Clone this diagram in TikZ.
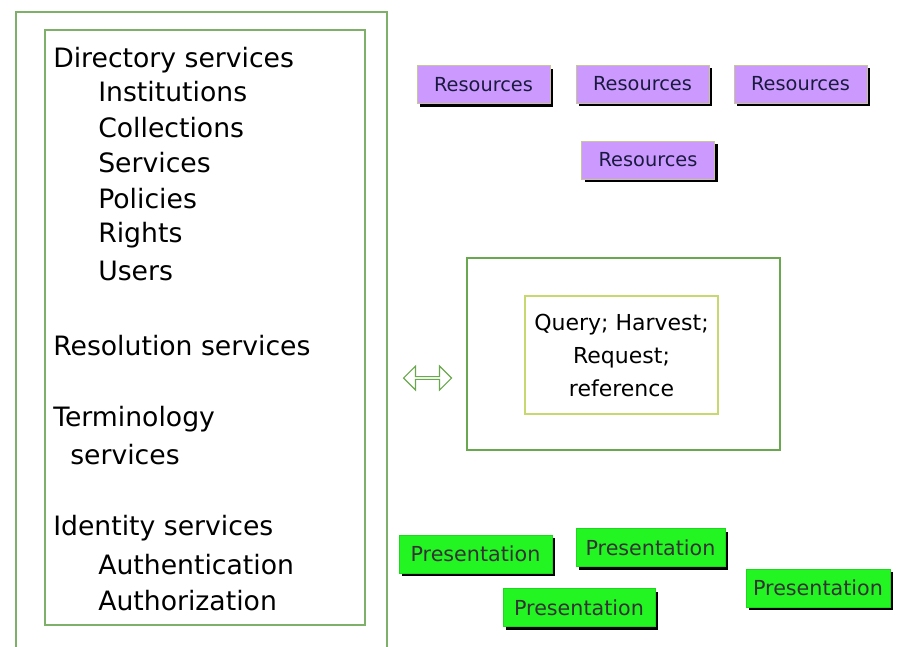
\documentclass[tikz,border=0pt]{standalone}
\usepackage{fontspec}
\setmainfont{DejaVu Sans}
\usetikzlibrary{shapes.arrows}
\definecolor{boxgreen}{HTML}{6AA84F}
\definecolor{innergreen}{HTML}{7FB06A}
\definecolor{yellowgreen}{HTML}{C8D870}
\definecolor{lav}{HTML}{CC99FF}
\definecolor{brightgreen}{HTML}{22F522}
\definecolor{navy}{HTML}{1A1A40}
\tikzset{
  frame/.style={draw=#1, line width=1.2pt},
  lbl/.style={anchor=west, inner sep=0pt, font=\fontsize{20}{24}\selectfont},
  resbox/.style={minimum width=99.75pt, minimum height=28.5pt, inner sep=0pt, fill=lav, draw=yellowgreen!70!lav, line width=0.6pt, text=navy, font=\fontsize{14.5}{16}\selectfont},
  presbox/.style={minimum height=28.5pt, inner sep=0pt, fill=brightgreen, draw=brightgreen!70!black!40!brightgreen, line width=0.4pt, text=black!80, font=\fontsize{15.5}{17}\selectfont},
  shadowed/.style={preaction={fill=black, transform canvas={xshift=2.6pt, yshift=-2.6pt}}},
}
\begin{document}
\begin{tikzpicture}[x=0.75pt, y=-0.75pt]
\useasboundingbox (0,0) rectangle (899,646);
\fill[white] (0,0) rectangle (899,646);
% left frames
\draw[frame=innergreen] (16,660) -- (16,12) -- (387,12) -- (387,660);
\draw[frame=innergreen] (45,30) rectangle (365,625);
\node[lbl] (ds) at (53,60) {Directory services};
\node[lbl] (i1) at (98,92) {Institutions};
\node[lbl] (i2) at (98,128) {Collections};
\node[lbl] (i3) at (98,163) {Services};
\node[lbl] (i4) at (98,199) {Policies};
\node[lbl] (i5) at (98,235) {Rights};
\node[lbl] (i6) at (98,271) {Users};
\node[lbl] (rs) at (53,346) {Resolution services};
\node[lbl] (ts) at (53,419) {Terminology};
\node[lbl] (ts2) at (70,455) {services};
\node[lbl] (is) at (53,528) {Identity services};
\node[lbl] (a1) at (98,565) {Authentication};
\node[lbl] (a2) at (98,601) {Authorization};
% resources
\node[resbox, shadowed] (r1) at (483.5,84.5) {Resources};
\node[resbox, shadowed] (r2) at (642.5,84) {Resources};
\node[resbox, shadowed] (r3) at (800.5,84) {Resources};
\node[resbox, shadowed] (r4) at (648,160) {Resources};
% middle
\draw[frame=boxgreen] (467,258) rectangle (780,450);
\draw[frame=yellowgreen] (525,296) rectangle (718,414);
\node[align=center, inner sep=0pt, font=\fontsize{16.5}{24.75}\selectfont] (q) at (621.5,355) {Query; Harvest;\\Request;\\reference};
\node[double arrow, draw=boxgreen, fill=white, line width=0.8pt, minimum width=18pt, minimum height=36pt, double arrow head extend=3pt, inner sep=0pt] (da) at (427.5,378) {};
% presentations
\node[presbox, shadowed, minimum width=114.75pt] (p1) at (475.5,554) {Presentation};
\node[presbox, shadowed, minimum width=111.75pt] (p2) at (650.5,547.5) {Presentation};
\node[presbox, shadowed, minimum width=108pt] (p3) at (818,588) {Presentation};
\node[presbox, shadowed, minimum width=114pt] (p4) at (579,607.5) {Presentation};
\end{tikzpicture}
\end{document}
